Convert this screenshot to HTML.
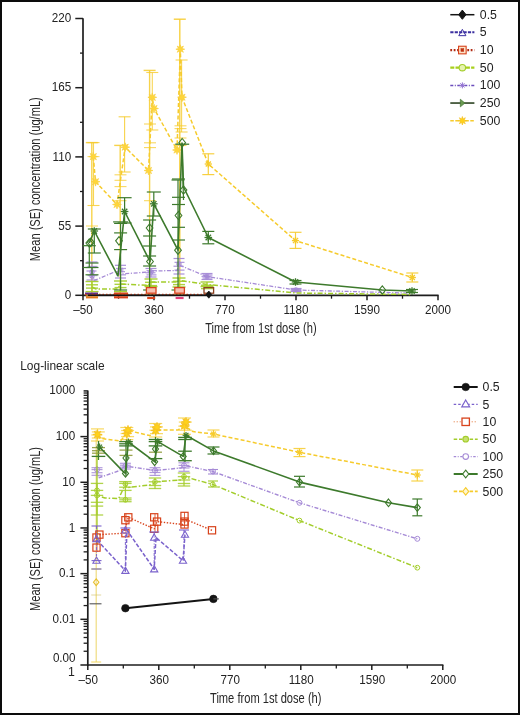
<!DOCTYPE html>
<html><head><meta charset="utf-8"><style>
html,body{margin:0;padding:0;background:#fff;}
#wrap{position:relative;width:520px;height:715px;overflow:hidden;background:#fff;}
#frame{position:absolute;left:0;top:0;width:520px;height:715px;box-sizing:border-box;border:2px solid #0c0c0c;}
svg{position:absolute;left:0;top:0;font-family:"Liberation Sans",sans-serif;filter:blur(0.3px);}
</style></head><body><div id="wrap"><div id="frame"></div>
<svg width="520" height="715" viewBox="0 0 520 715">
<line x1="83" y1="18.2" x2="83" y2="296.1" stroke="#1e1e1e" stroke-width="1.7"/>
<line x1="82.2" y1="295.3" x2="438.6" y2="295.3" stroke="#1e1e1e" stroke-width="1.7"/>
<line x1="75.3" y1="295.3" x2="83" y2="295.3" stroke="#1e1e1e" stroke-width="1.5"/>
<text x="0" y="0" font-size="12.3" text-anchor="end" fill="#222" transform="translate(71.2,298.9) scale(0.95,1)">0</text>
<line x1="75.3" y1="226.1" x2="83" y2="226.1" stroke="#1e1e1e" stroke-width="1.5"/>
<text x="0" y="0" font-size="12.3" text-anchor="end" fill="#222" transform="translate(71.2,229.7) scale(0.95,1)">55</text>
<line x1="75.3" y1="156.9" x2="83" y2="156.9" stroke="#1e1e1e" stroke-width="1.5"/>
<text x="0" y="0" font-size="12.3" text-anchor="end" fill="#222" transform="translate(71.2,160.5) scale(0.95,1)">110</text>
<line x1="75.3" y1="87.7" x2="83" y2="87.7" stroke="#1e1e1e" stroke-width="1.5"/>
<text x="0" y="0" font-size="12.3" text-anchor="end" fill="#222" transform="translate(71.2,91.3) scale(0.95,1)">165</text>
<line x1="75.3" y1="18.5" x2="83" y2="18.5" stroke="#1e1e1e" stroke-width="1.5"/>
<text x="0" y="0" font-size="12.3" text-anchor="end" fill="#222" transform="translate(71.2,22.1) scale(0.95,1)">220</text>
<line x1="80" y1="260.7" x2="83" y2="260.7" stroke="#1e1e1e" stroke-width="1.3"/>
<line x1="80" y1="191.5" x2="83" y2="191.5" stroke="#1e1e1e" stroke-width="1.3"/>
<line x1="80" y1="122.3" x2="83" y2="122.3" stroke="#1e1e1e" stroke-width="1.3"/>
<line x1="80" y1="53.1" x2="83" y2="53.1" stroke="#1e1e1e" stroke-width="1.3"/>
<line x1="83" y1="295.3" x2="83" y2="300.3" stroke="#1e1e1e" stroke-width="1.5"/>
<text x="0" y="0" font-size="12.3" text-anchor="middle" fill="#222" transform="translate(83,314.3) scale(0.95,1)">&#8211;50</text>
<line x1="154" y1="295.3" x2="154" y2="300.3" stroke="#1e1e1e" stroke-width="1.5"/>
<text x="0" y="0" font-size="12.3" text-anchor="middle" fill="#222" transform="translate(154,314.3) scale(0.95,1)">360</text>
<line x1="225" y1="295.3" x2="225" y2="300.3" stroke="#1e1e1e" stroke-width="1.5"/>
<text x="0" y="0" font-size="12.3" text-anchor="middle" fill="#222" transform="translate(225,314.3) scale(0.95,1)">770</text>
<line x1="296" y1="295.3" x2="296" y2="300.3" stroke="#1e1e1e" stroke-width="1.5"/>
<text x="0" y="0" font-size="12.3" text-anchor="middle" fill="#222" transform="translate(296,314.3) scale(0.95,1)">1180</text>
<line x1="367" y1="295.3" x2="367" y2="300.3" stroke="#1e1e1e" stroke-width="1.5"/>
<text x="0" y="0" font-size="12.3" text-anchor="middle" fill="#222" transform="translate(367,314.3) scale(0.95,1)">1590</text>
<line x1="438" y1="295.3" x2="438" y2="300.3" stroke="#1e1e1e" stroke-width="1.5"/>
<text x="0" y="0" font-size="12.3" text-anchor="middle" fill="#222" transform="translate(438,314.3) scale(0.95,1)">2000</text>
<line x1="118.5" y1="295.3" x2="118.5" y2="298.7" stroke="#1e1e1e" stroke-width="1.3"/>
<line x1="189.5" y1="295.3" x2="189.5" y2="298.7" stroke="#1e1e1e" stroke-width="1.3"/>
<line x1="260.5" y1="295.3" x2="260.5" y2="298.7" stroke="#1e1e1e" stroke-width="1.3"/>
<line x1="331.5" y1="295.3" x2="331.5" y2="298.7" stroke="#1e1e1e" stroke-width="1.3"/>
<line x1="402.5" y1="295.3" x2="402.5" y2="298.7" stroke="#1e1e1e" stroke-width="1.3"/>
<text x="0" y="0" font-size="13.8" fill="#262626" textLength="111.5" lengthAdjust="spacingAndGlyphs" transform="translate(205.2,333.3)">Time from 1st dose (h)</text>
<text x="0" y="0" font-size="13.8" fill="#262626" textLength="164" lengthAdjust="spacingAndGlyphs" transform="translate(40.2,261.2) rotate(-90)">Mean (SE) concentration (ug/mL)</text>
<line x1="91.8" y1="142.6" x2="91.8" y2="295" stroke="#f6cb2c" stroke-width="1.4" stroke-opacity="0.85"/>
<line x1="85.8" y1="142.6" x2="97.8" y2="142.6" stroke="#f6cb2c" stroke-width="1.4" stroke-opacity="0.85"/>
<line x1="85.8" y1="295" x2="97.8" y2="295" stroke="#f6cb2c" stroke-width="1.4" stroke-opacity="0.85"/>
<line x1="93.5" y1="142.6" x2="93.5" y2="205.5" stroke="#f6cb2c" stroke-width="1.1" stroke-opacity="0.8"/>
<line x1="87.5" y1="142.6" x2="99.5" y2="142.6" stroke="#f6cb2c" stroke-width="1.1" stroke-opacity="0.8"/>
<line x1="87.5" y1="205.5" x2="99.5" y2="205.5" stroke="#f6cb2c" stroke-width="1.1" stroke-opacity="0.8"/>
<line x1="87.5" y1="156.6" x2="99.5" y2="156.6" stroke="#f6cb2c" stroke-width="1.1" stroke-opacity="0.7"/>
<line x1="86" y1="226" x2="98" y2="226" stroke="#f6cb2c" stroke-width="1.1" stroke-opacity="0.7"/>
<line x1="120.2" y1="145.4" x2="120.2" y2="295" stroke="#f6cb2c" stroke-width="1.4" stroke-opacity="0.85"/>
<line x1="114.2" y1="145.4" x2="126.2" y2="145.4" stroke="#f6cb2c" stroke-width="1.4" stroke-opacity="0.85"/>
<line x1="114.2" y1="295" x2="126.2" y2="295" stroke="#f6cb2c" stroke-width="1.4" stroke-opacity="0.85"/>
<line x1="124.6" y1="116.8" x2="124.6" y2="172" stroke="#f6cb2c" stroke-width="1.1" stroke-opacity="0.85"/>
<line x1="118.6" y1="116.8" x2="130.6" y2="116.8" stroke="#f6cb2c" stroke-width="1.1" stroke-opacity="0.85"/>
<line x1="118.6" y1="172" x2="130.6" y2="172" stroke="#f6cb2c" stroke-width="1.1" stroke-opacity="0.85"/>
<line x1="114.5" y1="174.8" x2="126.5" y2="174.8" stroke="#f6cb2c" stroke-width="1.1" stroke-opacity="0.75"/>
<line x1="114.5" y1="180.3" x2="126.5" y2="180.3" stroke="#f6cb2c" stroke-width="1.1" stroke-opacity="0.75"/>
<line x1="114.5" y1="186.6" x2="126.5" y2="186.6" stroke="#f6cb2c" stroke-width="1.1" stroke-opacity="0.75"/>
<line x1="114.5" y1="200.7" x2="126.5" y2="200.7" stroke="#f6cb2c" stroke-width="1.1" stroke-opacity="0.75"/>
<line x1="149.6" y1="70.4" x2="149.6" y2="295" stroke="#f6cb2c" stroke-width="1.4" stroke-opacity="0.85"/>
<line x1="143.6" y1="70.4" x2="155.6" y2="70.4" stroke="#f6cb2c" stroke-width="1.4" stroke-opacity="0.85"/>
<line x1="143.6" y1="295" x2="155.6" y2="295" stroke="#f6cb2c" stroke-width="1.4" stroke-opacity="0.85"/>
<line x1="152.3" y1="72.5" x2="152.3" y2="130" stroke="#f6cb2c" stroke-width="1.1" stroke-opacity="0.8"/>
<line x1="146.3" y1="72.5" x2="158.3" y2="72.5" stroke="#f6cb2c" stroke-width="1.1" stroke-opacity="0.8"/>
<line x1="146.3" y1="130" x2="158.3" y2="130" stroke="#f6cb2c" stroke-width="1.1" stroke-opacity="0.8"/>
<line x1="144" y1="142.8" x2="156" y2="142.8" stroke="#f6cb2c" stroke-width="1.1" stroke-opacity="0.75"/>
<line x1="144" y1="147.6" x2="156" y2="147.6" stroke="#f6cb2c" stroke-width="1.1" stroke-opacity="0.75"/>
<line x1="144" y1="200.7" x2="156" y2="200.7" stroke="#f6cb2c" stroke-width="1.1" stroke-opacity="0.75"/>
<line x1="144" y1="124" x2="156" y2="124" stroke="#f6cb2c" stroke-width="1.1" stroke-opacity="0.75"/>
<line x1="179.8" y1="19.2" x2="179.8" y2="295" stroke="#f6cb2c" stroke-width="1.4" stroke-opacity="0.9"/>
<line x1="173.8" y1="19.2" x2="185.8" y2="19.2" stroke="#f6cb2c" stroke-width="1.4" stroke-opacity="0.9"/>
<line x1="173.8" y1="295" x2="185.8" y2="295" stroke="#f6cb2c" stroke-width="1.4" stroke-opacity="0.9"/>
<line x1="181.6" y1="60" x2="181.6" y2="132" stroke="#f6cb2c" stroke-width="1.1" stroke-opacity="0.8"/>
<line x1="175.6" y1="60" x2="187.6" y2="60" stroke="#f6cb2c" stroke-width="1.1" stroke-opacity="0.8"/>
<line x1="175.6" y1="132" x2="187.6" y2="132" stroke="#f6cb2c" stroke-width="1.1" stroke-opacity="0.8"/>
<line x1="174.5" y1="125.8" x2="186.5" y2="125.8" stroke="#f6cb2c" stroke-width="1.1" stroke-opacity="0.75"/>
<line x1="174.5" y1="128.6" x2="186.5" y2="128.6" stroke="#f6cb2c" stroke-width="1.1" stroke-opacity="0.75"/>
<line x1="174.5" y1="138" x2="186.5" y2="138" stroke="#f6cb2c" stroke-width="1.1" stroke-opacity="0.75"/>
<line x1="174.5" y1="145.5" x2="186.5" y2="145.5" stroke="#f6cb2c" stroke-width="1.1" stroke-opacity="0.75"/>
<line x1="208.3" y1="153.8" x2="208.3" y2="174.6" stroke="#f6cb2c" stroke-width="1.2" stroke-opacity="0.9"/>
<line x1="202.3" y1="153.8" x2="214.3" y2="153.8" stroke="#f6cb2c" stroke-width="1.2" stroke-opacity="0.9"/>
<line x1="202.3" y1="174.6" x2="214.3" y2="174.6" stroke="#f6cb2c" stroke-width="1.2" stroke-opacity="0.9"/>
<line x1="295.5" y1="232.3" x2="295.5" y2="248.4" stroke="#f6cb2c" stroke-width="1.2" stroke-opacity="0.9"/>
<line x1="289.5" y1="232.3" x2="301.5" y2="232.3" stroke="#f6cb2c" stroke-width="1.2" stroke-opacity="0.9"/>
<line x1="289.5" y1="248.4" x2="301.5" y2="248.4" stroke="#f6cb2c" stroke-width="1.2" stroke-opacity="0.9"/>
<line x1="412.3" y1="273" x2="412.3" y2="282" stroke="#f6cb2c" stroke-width="1.2" stroke-opacity="0.9"/>
<line x1="406.3" y1="273" x2="418.3" y2="273" stroke="#f6cb2c" stroke-width="1.2" stroke-opacity="0.9"/>
<line x1="406.3" y1="282" x2="418.3" y2="282" stroke="#f6cb2c" stroke-width="1.2" stroke-opacity="0.9"/>
<polyline points="93.3,156.6 95.5,181.7 117,204.5 125.2,147.2 148.5,170.5 152.3,97.3 154,108.5 177,150 180.3,49.2 182,97.2 208.3,164 295.5,240.6 412.3,277.5" fill="none" stroke="#f6cb2c" stroke-width="1.5" stroke-dasharray="4 2.2" stroke-linejoin="round"/>
<polygon points="93.3,152.2 94.06,154.77 96.41,153.49 95.13,155.84 97.7,156.6 95.13,157.36 96.41,159.71 94.06,158.43 93.3,161 92.54,158.43 90.19,159.71 91.47,157.36 88.9,156.6 91.47,155.84 90.19,153.49 92.54,154.77" fill="#ffd63a" stroke="#f8d040" stroke-width="0.7"/>
<polygon points="95.5,177.3 96.26,179.87 98.61,178.59 97.33,180.94 99.9,181.7 97.33,182.46 98.61,184.81 96.26,183.53 95.5,186.1 94.74,183.53 92.39,184.81 93.67,182.46 91.1,181.7 93.67,180.94 92.39,178.59 94.74,179.87" fill="#ffd63a" stroke="#f8d040" stroke-width="0.7"/>
<polygon points="117,200.1 117.76,202.67 120.11,201.39 118.83,203.74 121.4,204.5 118.83,205.26 120.11,207.61 117.76,206.33 117,208.9 116.24,206.33 113.89,207.61 115.17,205.26 112.6,204.5 115.17,203.74 113.89,201.39 116.24,202.67" fill="#ffd63a" stroke="#f8d040" stroke-width="0.7"/>
<polygon points="125.2,142.8 125.96,145.37 128.31,144.09 127.03,146.44 129.6,147.2 127.03,147.96 128.31,150.31 125.96,149.03 125.2,151.6 124.44,149.03 122.09,150.31 123.37,147.96 120.8,147.2 123.37,146.44 122.09,144.09 124.44,145.37" fill="#ffd63a" stroke="#f8d040" stroke-width="0.7"/>
<polygon points="148.5,166.1 149.26,168.67 151.61,167.39 150.33,169.74 152.9,170.5 150.33,171.26 151.61,173.61 149.26,172.33 148.5,174.9 147.74,172.33 145.39,173.61 146.67,171.26 144.1,170.5 146.67,169.74 145.39,167.39 147.74,168.67" fill="#ffd63a" stroke="#f8d040" stroke-width="0.7"/>
<polygon points="152.3,92.9 153.06,95.47 155.41,94.19 154.13,96.54 156.7,97.3 154.13,98.06 155.41,100.41 153.06,99.13 152.3,101.7 151.54,99.13 149.19,100.41 150.47,98.06 147.9,97.3 150.47,96.54 149.19,94.19 151.54,95.47" fill="#ffd63a" stroke="#f8d040" stroke-width="0.7"/>
<polygon points="154,104.1 154.76,106.67 157.11,105.39 155.83,107.74 158.4,108.5 155.83,109.26 157.11,111.61 154.76,110.33 154,112.9 153.24,110.33 150.89,111.61 152.17,109.26 149.6,108.5 152.17,107.74 150.89,105.39 153.24,106.67" fill="#ffd63a" stroke="#f8d040" stroke-width="0.7"/>
<polygon points="177,145.6 177.76,148.17 180.11,146.89 178.83,149.24 181.4,150 178.83,150.76 180.11,153.11 177.76,151.83 177,154.4 176.24,151.83 173.89,153.11 175.17,150.76 172.6,150 175.17,149.24 173.89,146.89 176.24,148.17" fill="#ffd63a" stroke="#f8d040" stroke-width="0.7"/>
<polygon points="180.3,44.8 181.06,47.37 183.41,46.09 182.13,48.44 184.7,49.2 182.13,49.96 183.41,52.31 181.06,51.03 180.3,53.6 179.54,51.03 177.19,52.31 178.47,49.96 175.9,49.2 178.47,48.44 177.19,46.09 179.54,47.37" fill="#ffd63a" stroke="#f8d040" stroke-width="0.7"/>
<polygon points="182,92.8 182.76,95.37 185.11,94.09 183.83,96.44 186.4,97.2 183.83,97.96 185.11,100.31 182.76,99.03 182,101.6 181.24,99.03 178.89,100.31 180.17,97.96 177.6,97.2 180.17,96.44 178.89,94.09 181.24,95.37" fill="#ffd63a" stroke="#f8d040" stroke-width="0.7"/>
<line x1="204.7" y1="164" x2="211.9" y2="164" stroke="#f6cb2c" stroke-width="1.3"/>
<line x1="205.75" y1="161.45" x2="210.85" y2="166.55" stroke="#f6cb2c" stroke-width="1.3"/>
<line x1="208.3" y1="160.4" x2="208.3" y2="167.6" stroke="#f6cb2c" stroke-width="1.3"/>
<line x1="210.85" y1="161.45" x2="205.75" y2="166.55" stroke="#f6cb2c" stroke-width="1.3"/>
<line x1="291.9" y1="240.6" x2="299.1" y2="240.6" stroke="#f6cb2c" stroke-width="1.3"/>
<line x1="292.95" y1="238.05" x2="298.05" y2="243.15" stroke="#f6cb2c" stroke-width="1.3"/>
<line x1="295.5" y1="237" x2="295.5" y2="244.2" stroke="#f6cb2c" stroke-width="1.3"/>
<line x1="298.05" y1="238.05" x2="292.95" y2="243.15" stroke="#f6cb2c" stroke-width="1.3"/>
<line x1="408.7" y1="277.5" x2="415.9" y2="277.5" stroke="#f6cb2c" stroke-width="1.3"/>
<line x1="409.75" y1="274.95" x2="414.85" y2="280.05" stroke="#f6cb2c" stroke-width="1.3"/>
<line x1="412.3" y1="273.9" x2="412.3" y2="281.1" stroke="#f6cb2c" stroke-width="1.3"/>
<line x1="414.85" y1="274.95" x2="409.75" y2="280.05" stroke="#f6cb2c" stroke-width="1.3"/>
<line x1="92" y1="262" x2="92" y2="280" stroke="#a58ad6" stroke-width="1.2" stroke-opacity="0.95"/>
<line x1="86.5" y1="262" x2="97.5" y2="262" stroke="#a58ad6" stroke-width="1.2" stroke-opacity="0.95"/>
<line x1="86.5" y1="280" x2="97.5" y2="280" stroke="#a58ad6" stroke-width="1.2" stroke-opacity="0.95"/>
<line x1="87.5" y1="266.5" x2="97.5" y2="266.5" stroke="#a58ad6" stroke-width="1.3" stroke-opacity="0.85"/>
<line x1="86.5" y1="271" x2="96.5" y2="271" stroke="#a58ad6" stroke-width="1.3" stroke-opacity="0.85"/>
<line x1="87.5" y1="275.5" x2="97.5" y2="275.5" stroke="#a58ad6" stroke-width="1.3" stroke-opacity="0.85"/>
<line x1="120.5" y1="265.3" x2="120.5" y2="278" stroke="#a58ad6" stroke-width="1.2" stroke-opacity="0.95"/>
<line x1="115" y1="265.3" x2="126" y2="265.3" stroke="#a58ad6" stroke-width="1.2" stroke-opacity="0.95"/>
<line x1="115" y1="278" x2="126" y2="278" stroke="#a58ad6" stroke-width="1.2" stroke-opacity="0.95"/>
<line x1="116" y1="268.48" x2="126" y2="268.48" stroke="#a58ad6" stroke-width="1.3" stroke-opacity="0.85"/>
<line x1="115" y1="271.65" x2="125" y2="271.65" stroke="#a58ad6" stroke-width="1.3" stroke-opacity="0.85"/>
<line x1="116" y1="274.82" x2="126" y2="274.82" stroke="#a58ad6" stroke-width="1.3" stroke-opacity="0.85"/>
<line x1="151" y1="268.5" x2="151" y2="277" stroke="#a58ad6" stroke-width="1.2" stroke-opacity="0.95"/>
<line x1="145.5" y1="268.5" x2="156.5" y2="268.5" stroke="#a58ad6" stroke-width="1.2" stroke-opacity="0.95"/>
<line x1="145.5" y1="277" x2="156.5" y2="277" stroke="#a58ad6" stroke-width="1.2" stroke-opacity="0.95"/>
<line x1="146.5" y1="270.62" x2="156.5" y2="270.62" stroke="#a58ad6" stroke-width="1.3" stroke-opacity="0.85"/>
<line x1="145.5" y1="272.75" x2="155.5" y2="272.75" stroke="#a58ad6" stroke-width="1.3" stroke-opacity="0.85"/>
<line x1="146.5" y1="274.88" x2="156.5" y2="274.88" stroke="#a58ad6" stroke-width="1.3" stroke-opacity="0.85"/>
<line x1="179" y1="258.5" x2="179" y2="274" stroke="#a58ad6" stroke-width="1.2" stroke-opacity="0.95"/>
<line x1="173.5" y1="258.5" x2="184.5" y2="258.5" stroke="#a58ad6" stroke-width="1.2" stroke-opacity="0.95"/>
<line x1="173.5" y1="274" x2="184.5" y2="274" stroke="#a58ad6" stroke-width="1.2" stroke-opacity="0.95"/>
<line x1="174.5" y1="262.38" x2="184.5" y2="262.38" stroke="#a58ad6" stroke-width="1.3" stroke-opacity="0.85"/>
<line x1="173.5" y1="266.25" x2="183.5" y2="266.25" stroke="#a58ad6" stroke-width="1.3" stroke-opacity="0.85"/>
<line x1="174.5" y1="270.12" x2="184.5" y2="270.12" stroke="#a58ad6" stroke-width="1.3" stroke-opacity="0.85"/>
<line x1="207" y1="273.5" x2="207" y2="279.5" stroke="#a58ad6" stroke-width="1.2" stroke-opacity="0.95"/>
<line x1="201.5" y1="273.5" x2="212.5" y2="273.5" stroke="#a58ad6" stroke-width="1.2" stroke-opacity="0.95"/>
<line x1="201.5" y1="279.5" x2="212.5" y2="279.5" stroke="#a58ad6" stroke-width="1.2" stroke-opacity="0.95"/>
<line x1="202.5" y1="275" x2="212.5" y2="275" stroke="#a58ad6" stroke-width="1.3" stroke-opacity="0.85"/>
<line x1="201.5" y1="276.5" x2="211.5" y2="276.5" stroke="#a58ad6" stroke-width="1.3" stroke-opacity="0.85"/>
<line x1="202.5" y1="278" x2="212.5" y2="278" stroke="#a58ad6" stroke-width="1.3" stroke-opacity="0.85"/>
<line x1="296" y1="288.5" x2="296" y2="291.5" stroke="#a58ad6" stroke-width="1.2" stroke-opacity="0.95"/>
<line x1="290.5" y1="288.5" x2="301.5" y2="288.5" stroke="#a58ad6" stroke-width="1.2" stroke-opacity="0.95"/>
<line x1="290.5" y1="291.5" x2="301.5" y2="291.5" stroke="#a58ad6" stroke-width="1.2" stroke-opacity="0.95"/>
<line x1="291.5" y1="289.25" x2="301.5" y2="289.25" stroke="#a58ad6" stroke-width="1.3" stroke-opacity="0.85"/>
<line x1="290.5" y1="290" x2="300.5" y2="290" stroke="#a58ad6" stroke-width="1.3" stroke-opacity="0.85"/>
<line x1="291.5" y1="290.75" x2="301.5" y2="290.75" stroke="#a58ad6" stroke-width="1.3" stroke-opacity="0.85"/>
<polyline points="92,272 94.3,280.4 115.6,271.5 121,274 149,272 151,271 177,270.5 179,265 207,276.6 296,290 412,293.2" fill="none" stroke="#a58ad6" stroke-width="1.3" stroke-dasharray="4 1.6 1.2 1.6" stroke-linejoin="round"/>
<line x1="89" y1="272" x2="95" y2="272" stroke="#a58ad6" stroke-width="1.1"/>
<line x1="89.88" y1="269.88" x2="94.12" y2="274.12" stroke="#a58ad6" stroke-width="1.1"/>
<line x1="92" y1="269" x2="92" y2="275" stroke="#a58ad6" stroke-width="1.1"/>
<line x1="94.12" y1="269.88" x2="89.88" y2="274.12" stroke="#a58ad6" stroke-width="1.1"/>
<line x1="89" y1="276" x2="95" y2="276" stroke="#a58ad6" stroke-width="1.1"/>
<line x1="89.88" y1="273.88" x2="94.12" y2="278.12" stroke="#a58ad6" stroke-width="1.1"/>
<line x1="92" y1="273" x2="92" y2="279" stroke="#a58ad6" stroke-width="1.1"/>
<line x1="94.12" y1="273.88" x2="89.88" y2="278.12" stroke="#a58ad6" stroke-width="1.1"/>
<line x1="117.5" y1="270" x2="123.5" y2="270" stroke="#a58ad6" stroke-width="1.1"/>
<line x1="118.38" y1="267.88" x2="122.62" y2="272.12" stroke="#a58ad6" stroke-width="1.1"/>
<line x1="120.5" y1="267" x2="120.5" y2="273" stroke="#a58ad6" stroke-width="1.1"/>
<line x1="122.62" y1="267.88" x2="118.38" y2="272.12" stroke="#a58ad6" stroke-width="1.1"/>
<line x1="148" y1="272" x2="154" y2="272" stroke="#a58ad6" stroke-width="1.1"/>
<line x1="148.88" y1="269.88" x2="153.12" y2="274.12" stroke="#a58ad6" stroke-width="1.1"/>
<line x1="151" y1="269" x2="151" y2="275" stroke="#a58ad6" stroke-width="1.1"/>
<line x1="153.12" y1="269.88" x2="148.88" y2="274.12" stroke="#a58ad6" stroke-width="1.1"/>
<line x1="176" y1="264" x2="182" y2="264" stroke="#a58ad6" stroke-width="1.1"/>
<line x1="176.88" y1="261.88" x2="181.12" y2="266.12" stroke="#a58ad6" stroke-width="1.1"/>
<line x1="179" y1="261" x2="179" y2="267" stroke="#a58ad6" stroke-width="1.1"/>
<line x1="181.12" y1="261.88" x2="176.88" y2="266.12" stroke="#a58ad6" stroke-width="1.1"/>
<line x1="204" y1="276.6" x2="210" y2="276.6" stroke="#a58ad6" stroke-width="1.1"/>
<line x1="204.88" y1="274.48" x2="209.12" y2="278.72" stroke="#a58ad6" stroke-width="1.1"/>
<line x1="207" y1="273.6" x2="207" y2="279.6" stroke="#a58ad6" stroke-width="1.1"/>
<line x1="209.12" y1="274.48" x2="204.88" y2="278.72" stroke="#a58ad6" stroke-width="1.1"/>
<line x1="293" y1="290" x2="299" y2="290" stroke="#a58ad6" stroke-width="1.1"/>
<line x1="293.88" y1="287.88" x2="298.12" y2="292.12" stroke="#a58ad6" stroke-width="1.1"/>
<line x1="296" y1="287" x2="296" y2="293" stroke="#a58ad6" stroke-width="1.1"/>
<line x1="298.12" y1="287.88" x2="293.88" y2="292.12" stroke="#a58ad6" stroke-width="1.1"/>
<line x1="92" y1="281.5" x2="92" y2="291.6" stroke="#a3cd2b" stroke-width="1.4" stroke-opacity="0.95"/>
<line x1="85.5" y1="281.5" x2="98.5" y2="281.5" stroke="#a3cd2b" stroke-width="1.4" stroke-opacity="0.95"/>
<line x1="85.5" y1="291.6" x2="98.5" y2="291.6" stroke="#a3cd2b" stroke-width="1.4" stroke-opacity="0.95"/>
<line x1="86" y1="284.8" x2="98" y2="284.8" stroke="#a3cd2b" stroke-width="1.4" stroke-opacity="0.9"/>
<line x1="86" y1="288.1" x2="98" y2="288.1" stroke="#a3cd2b" stroke-width="1.4" stroke-opacity="0.9"/>
<line x1="120.5" y1="281" x2="120.5" y2="291.6" stroke="#a3cd2b" stroke-width="1.4" stroke-opacity="0.95"/>
<line x1="114" y1="281" x2="127" y2="281" stroke="#a3cd2b" stroke-width="1.4" stroke-opacity="0.95"/>
<line x1="114" y1="291.6" x2="127" y2="291.6" stroke="#a3cd2b" stroke-width="1.4" stroke-opacity="0.95"/>
<line x1="114.5" y1="284.3" x2="126.5" y2="284.3" stroke="#a3cd2b" stroke-width="1.4" stroke-opacity="0.9"/>
<line x1="114.5" y1="287.6" x2="126.5" y2="287.6" stroke="#a3cd2b" stroke-width="1.4" stroke-opacity="0.9"/>
<line x1="151" y1="279" x2="151" y2="286.5" stroke="#a3cd2b" stroke-width="1.4" stroke-opacity="0.95"/>
<line x1="144.5" y1="279" x2="157.5" y2="279" stroke="#a3cd2b" stroke-width="1.4" stroke-opacity="0.95"/>
<line x1="144.5" y1="286.5" x2="157.5" y2="286.5" stroke="#a3cd2b" stroke-width="1.4" stroke-opacity="0.95"/>
<line x1="145" y1="282.3" x2="157" y2="282.3" stroke="#a3cd2b" stroke-width="1.4" stroke-opacity="0.9"/>
<line x1="145" y1="285.6" x2="157" y2="285.6" stroke="#a3cd2b" stroke-width="1.4" stroke-opacity="0.9"/>
<line x1="179" y1="278" x2="179" y2="287" stroke="#a3cd2b" stroke-width="1.4" stroke-opacity="0.95"/>
<line x1="172.5" y1="278" x2="185.5" y2="278" stroke="#a3cd2b" stroke-width="1.4" stroke-opacity="0.95"/>
<line x1="172.5" y1="287" x2="185.5" y2="287" stroke="#a3cd2b" stroke-width="1.4" stroke-opacity="0.95"/>
<line x1="173" y1="281.3" x2="185" y2="281.3" stroke="#a3cd2b" stroke-width="1.4" stroke-opacity="0.9"/>
<line x1="173" y1="284.6" x2="185" y2="284.6" stroke="#a3cd2b" stroke-width="1.4" stroke-opacity="0.9"/>
<line x1="207" y1="282" x2="207" y2="286.5" stroke="#a3cd2b" stroke-width="1.4" stroke-opacity="0.95"/>
<line x1="200.5" y1="282" x2="213.5" y2="282" stroke="#a3cd2b" stroke-width="1.4" stroke-opacity="0.95"/>
<line x1="200.5" y1="286.5" x2="213.5" y2="286.5" stroke="#a3cd2b" stroke-width="1.4" stroke-opacity="0.95"/>
<line x1="201" y1="285.3" x2="213" y2="285.3" stroke="#a3cd2b" stroke-width="1.4" stroke-opacity="0.9"/>
<line x1="201" y1="288.6" x2="213" y2="288.6" stroke="#a3cd2b" stroke-width="1.4" stroke-opacity="0.9"/>
<polyline points="92,287 96,289 117,289 121,284 148,285.4 151,282 176,282 180,280.5 207,284.5 296,293 412,294.5" fill="none" stroke="#a3cd2b" stroke-width="1.5" stroke-dasharray="5 2 1.5 2" stroke-linejoin="round"/>
<line x1="94.3" y1="229" x2="94.3" y2="253" stroke="#3d7a2c" stroke-width="1.2"/>
<line x1="87.8" y1="229" x2="100.8" y2="229" stroke="#3d7a2c" stroke-width="1.2"/>
<line x1="87.8" y1="253" x2="100.8" y2="253" stroke="#3d7a2c" stroke-width="1.2"/>
<line x1="89.3" y1="245.7" x2="89.3" y2="267.5" stroke="#3d7a2c" stroke-width="1.2"/>
<line x1="82.8" y1="245.7" x2="95.8" y2="245.7" stroke="#3d7a2c" stroke-width="1.2"/>
<line x1="82.8" y1="267.5" x2="95.8" y2="267.5" stroke="#3d7a2c" stroke-width="1.2"/>
<line x1="92" y1="267.5" x2="92" y2="274.8" stroke="#3d7a2c" stroke-width="1.2"/>
<line x1="85.5" y1="267.5" x2="98.5" y2="267.5" stroke="#3d7a2c" stroke-width="1.2"/>
<line x1="85.5" y1="274.8" x2="98.5" y2="274.8" stroke="#3d7a2c" stroke-width="1.2"/>
<line x1="85.5" y1="263" x2="98.5" y2="263" stroke="#3d7a2c" stroke-width="1.2"/>
<line x1="124.6" y1="197.7" x2="124.6" y2="223" stroke="#3d7a2c" stroke-width="1.2"/>
<line x1="117.6" y1="197.7" x2="131.6" y2="197.7" stroke="#3d7a2c" stroke-width="1.2"/>
<line x1="117.6" y1="223" x2="131.6" y2="223" stroke="#3d7a2c" stroke-width="1.2"/>
<line x1="120.6" y1="223.4" x2="120.6" y2="290" stroke="#3d7a2c" stroke-width="1.2"/>
<line x1="114.1" y1="223.4" x2="127.1" y2="223.4" stroke="#3d7a2c" stroke-width="1.2"/>
<line x1="114.1" y1="290" x2="127.1" y2="290" stroke="#3d7a2c" stroke-width="1.2"/>
<line x1="114.1" y1="232.9" x2="127.1" y2="232.9" stroke="#3d7a2c" stroke-width="1.2"/>
<line x1="114.1" y1="249.6" x2="127.1" y2="249.6" stroke="#3d7a2c" stroke-width="1.2"/>
<line x1="113.1" y1="221.9" x2="128.1" y2="221.9" stroke="#3d7a2c" stroke-width="1.2"/>
<line x1="153.8" y1="192" x2="153.8" y2="216" stroke="#3d7a2c" stroke-width="1.2"/>
<line x1="146.8" y1="192" x2="160.8" y2="192" stroke="#3d7a2c" stroke-width="1.2"/>
<line x1="146.8" y1="216" x2="160.8" y2="216" stroke="#3d7a2c" stroke-width="1.2"/>
<line x1="149.6" y1="220" x2="149.6" y2="290" stroke="#3d7a2c" stroke-width="1.2"/>
<line x1="143.1" y1="220" x2="156.1" y2="220" stroke="#3d7a2c" stroke-width="1.2"/>
<line x1="143.1" y1="290" x2="156.1" y2="290" stroke="#3d7a2c" stroke-width="1.2"/>
<line x1="143.1" y1="256" x2="156.1" y2="256" stroke="#3d7a2c" stroke-width="1.2"/>
<line x1="143.1" y1="266" x2="156.1" y2="266" stroke="#3d7a2c" stroke-width="1.2"/>
<line x1="143.1" y1="236" x2="156.1" y2="236" stroke="#3d7a2c" stroke-width="1.2"/>
<line x1="143.1" y1="246" x2="156.1" y2="246" stroke="#3d7a2c" stroke-width="1.2"/>
<line x1="182" y1="143.5" x2="183.5" y2="200" stroke="#3d7a2c" stroke-width="1.2"/>
<line x1="178" y1="180" x2="178" y2="290" stroke="#3d7a2c" stroke-width="1.2"/>
<line x1="171.5" y1="180" x2="184.5" y2="180" stroke="#3d7a2c" stroke-width="1.2"/>
<line x1="171.5" y1="290" x2="184.5" y2="290" stroke="#3d7a2c" stroke-width="1.2"/>
<line x1="172" y1="179" x2="185" y2="179" stroke="#3d7a2c" stroke-width="1.2"/>
<line x1="172" y1="197.3" x2="185" y2="197.3" stroke="#3d7a2c" stroke-width="1.2"/>
<line x1="172" y1="204.5" x2="185" y2="204.5" stroke="#3d7a2c" stroke-width="1.2"/>
<line x1="172" y1="227.3" x2="185" y2="227.3" stroke="#3d7a2c" stroke-width="1.2"/>
<line x1="172" y1="240" x2="185" y2="240" stroke="#3d7a2c" stroke-width="1.2"/>
<line x1="175.2" y1="144.2" x2="189.2" y2="144.2" stroke="#3d7a2c" stroke-width="1.3"/>
<line x1="208.3" y1="231.4" x2="208.3" y2="243.8" stroke="#3d7a2c" stroke-width="1.2"/>
<line x1="202.3" y1="231.4" x2="214.3" y2="231.4" stroke="#3d7a2c" stroke-width="1.2"/>
<line x1="202.3" y1="243.8" x2="214.3" y2="243.8" stroke="#3d7a2c" stroke-width="1.2"/>
<line x1="295.5" y1="280.5" x2="295.5" y2="284" stroke="#3d7a2c" stroke-width="1.2"/>
<line x1="289.5" y1="280.5" x2="301.5" y2="280.5" stroke="#3d7a2c" stroke-width="1.2"/>
<line x1="289.5" y1="284" x2="301.5" y2="284" stroke="#3d7a2c" stroke-width="1.2"/>
<line x1="412" y1="289.5" x2="412" y2="292.5" stroke="#3d7a2c" stroke-width="1.2"/>
<line x1="406" y1="289.5" x2="418" y2="289.5" stroke="#3d7a2c" stroke-width="1.2"/>
<line x1="406" y1="292.5" x2="418" y2="292.5" stroke="#3d7a2c" stroke-width="1.2"/>
<polyline points="89.3,243 94.3,231 118,276 124.6,211.5 150,261.5 153.8,203.8 178,250.2 182,143 183.5,187 208.3,237.5 295.5,282 382.3,290 412,291" fill="none" stroke="#3d7a2c" stroke-width="1.6" stroke-linejoin="round"/>
<path d="M89.3 238.8L92.66 243L89.3 247.2L85.94 243Z" fill="none" stroke="#3d7a2c" stroke-width="1.1"/>
<path d="M119 236.6L122.36 240.8L119 245L115.64 240.8Z" fill="none" stroke="#3d7a2c" stroke-width="1.1"/>
<path d="M150 257.3L153.36 261.5L150 265.7L146.64 261.5Z" fill="none" stroke="#3d7a2c" stroke-width="1.1"/>
<path d="M149.6 223.8L152.96 228L149.6 232.2L146.24 228Z" fill="none" stroke="#3d7a2c" stroke-width="1.1"/>
<path d="M178 246L181.36 250.2L178 254.4L174.64 250.2Z" fill="none" stroke="#3d7a2c" stroke-width="1.1"/>
<path d="M183.5 185.8L186.86 190L183.5 194.2L180.14 190Z" fill="none" stroke="#3d7a2c" stroke-width="1.1"/>
<path d="M178.5 211.3L181.86 215.5L178.5 219.7L175.14 215.5Z" fill="none" stroke="#3d7a2c" stroke-width="1.1"/>
<path d="M382.3 285.8L385.66 290L382.3 294.2L378.94 290Z" fill="none" stroke="#3d7a2c" stroke-width="1.1"/>
<path d="M90.8 238.1L94.16 242.3L90.8 246.5L87.44 242.3Z" fill="none" stroke="#3d7a2c" stroke-width="1.1"/>
<path d="M182.2 138.5L185.56 142.7L182.2 146.9L178.84 142.7Z" fill="none" stroke="#3d7a2c" stroke-width="1.1"/>
<line x1="90.5" y1="231" x2="98.1" y2="231" stroke="#3d7a2c" stroke-width="1.3"/>
<line x1="91.61" y1="228.31" x2="96.99" y2="233.69" stroke="#3d7a2c" stroke-width="1.3"/>
<line x1="94.3" y1="227.2" x2="94.3" y2="234.8" stroke="#3d7a2c" stroke-width="1.3"/>
<line x1="96.99" y1="228.31" x2="91.61" y2="233.69" stroke="#3d7a2c" stroke-width="1.3"/>
<line x1="120.8" y1="211.5" x2="128.4" y2="211.5" stroke="#3d7a2c" stroke-width="1.3"/>
<line x1="121.91" y1="208.81" x2="127.29" y2="214.19" stroke="#3d7a2c" stroke-width="1.3"/>
<line x1="124.6" y1="207.7" x2="124.6" y2="215.3" stroke="#3d7a2c" stroke-width="1.3"/>
<line x1="127.29" y1="208.81" x2="121.91" y2="214.19" stroke="#3d7a2c" stroke-width="1.3"/>
<line x1="150" y1="203.8" x2="157.6" y2="203.8" stroke="#3d7a2c" stroke-width="1.3"/>
<line x1="151.11" y1="201.11" x2="156.49" y2="206.49" stroke="#3d7a2c" stroke-width="1.3"/>
<line x1="153.8" y1="200" x2="153.8" y2="207.6" stroke="#3d7a2c" stroke-width="1.3"/>
<line x1="156.49" y1="201.11" x2="151.11" y2="206.49" stroke="#3d7a2c" stroke-width="1.3"/>
<line x1="204.5" y1="237.5" x2="212.1" y2="237.5" stroke="#3d7a2c" stroke-width="1.3"/>
<line x1="205.61" y1="234.81" x2="210.99" y2="240.19" stroke="#3d7a2c" stroke-width="1.3"/>
<line x1="208.3" y1="233.7" x2="208.3" y2="241.3" stroke="#3d7a2c" stroke-width="1.3"/>
<line x1="210.99" y1="234.81" x2="205.61" y2="240.19" stroke="#3d7a2c" stroke-width="1.3"/>
<line x1="291.7" y1="282" x2="299.3" y2="282" stroke="#3d7a2c" stroke-width="1.3"/>
<line x1="292.81" y1="279.31" x2="298.19" y2="284.69" stroke="#3d7a2c" stroke-width="1.3"/>
<line x1="295.5" y1="278.2" x2="295.5" y2="285.8" stroke="#3d7a2c" stroke-width="1.3"/>
<line x1="298.19" y1="279.31" x2="292.81" y2="284.69" stroke="#3d7a2c" stroke-width="1.3"/>
<line x1="408.2" y1="291" x2="415.8" y2="291" stroke="#3d7a2c" stroke-width="1.3"/>
<line x1="409.31" y1="288.31" x2="414.69" y2="293.69" stroke="#3d7a2c" stroke-width="1.3"/>
<line x1="412" y1="287.2" x2="412" y2="294.8" stroke="#3d7a2c" stroke-width="1.3"/>
<line x1="414.69" y1="288.31" x2="409.31" y2="293.69" stroke="#3d7a2c" stroke-width="1.3"/>
<line x1="85" y1="293.6" x2="98" y2="293.6" stroke="#5a2a8a" stroke-width="2.2"/>
<line x1="86" y1="297.3" x2="98" y2="297.3" stroke="#e07a20" stroke-width="2.2"/>
<line x1="114" y1="293.6" x2="128" y2="293.6" stroke="#d8431c" stroke-width="2.2"/>
<line x1="114" y1="297.3" x2="128" y2="297.3" stroke="#d8431c" stroke-width="2.2"/>
<rect x="146.4" y="287.6" width="9.6" height="5.6" fill="#f6c0b0" stroke="#d8431c" stroke-width="1.3"/>
<line x1="147.2" y1="298" x2="155.2" y2="298" stroke="#d8431c" stroke-width="2.2"/>
<rect x="174.8" y="287.6" width="9.6" height="5.6" fill="#f6c0b0" stroke="#d8431c" stroke-width="1.3"/>
<line x1="175.6" y1="298" x2="183.6" y2="298" stroke="#e0407a" stroke-width="2.2"/>
<rect x="204" y="287.6" width="9.6" height="5.6" fill="none" stroke="#8a4020" stroke-width="1.3"/>
<polyline points="85,294.5 208,294.5" fill="none" stroke="#d8431c" stroke-width="1.3" stroke-dasharray="1.5 2" stroke-linejoin="round"/>
<path d="M208.8 291L211.68 294.6L208.8 298.2L205.92 294.6Z" fill="#141414" stroke="#141414" stroke-width="0.8"/>
<polyline points="88,295.2 208.8,295.2" fill="none" stroke="#141414" stroke-width="1.4" stroke-linejoin="round"/>
<line x1="450.3" y1="14.7" x2="474.4" y2="14.7" stroke="#141414" stroke-width="1.5"/>
<path d="M462.35 10.1L466.03 14.7L462.35 19.3L458.67 14.7Z" fill="#141414" stroke="#141414" stroke-width="1"/>
<text x="479.8" y="18.8" font-size="12.3" text-anchor="start" fill="#222">0.5</text>
<polyline points="450.3,32.37 474.4,32.37" fill="none" stroke="#3b2fa0" stroke-width="2.0" stroke-dasharray="3.2 1.2" stroke-linejoin="round"/>
<path d="M462.35 29.37L465.95 35.67L458.75 35.67Z" fill="none" stroke="#3b2fa0" stroke-width="1"/>
<text x="479.8" y="36.47" font-size="12.3" text-anchor="start" fill="#222">5</text>
<polyline points="450.3,50.04 474.4,50.04" fill="none" stroke="#b02a12" stroke-width="2.2" stroke-dasharray="1.8 1.6" stroke-linejoin="round"/>
<rect x="458.55" y="46.24" width="7.6" height="7.6" fill="#fbe2c8" stroke="#d8431c" stroke-width="1.1"/>
<rect x="460.95" y="48.64" width="2.8" height="2.8" fill="#c03010" stroke="#c03010" stroke-width="0.5"/>
<text x="479.8" y="54.14" font-size="12.3" text-anchor="start" fill="#222">10</text>
<polyline points="450.3,67.71 474.4,67.71" fill="none" stroke="#a8d01c" stroke-width="2.2" stroke-dasharray="4 1.2" stroke-linejoin="round"/>
<circle cx="462.35" cy="67.71" r="3.2" fill="#e6f3b0" stroke="#a3cd2b" stroke-width="1.1"/>
<text x="479.8" y="71.81" font-size="12.3" text-anchor="start" fill="#222">50</text>
<polyline points="450.3,85.38 474.4,85.38" fill="none" stroke="#6a4cbc" stroke-width="1.5" stroke-dasharray="3 1.5 1 1.5" stroke-linejoin="round"/>
<line x1="459.35" y1="85.38" x2="465.35" y2="85.38" stroke="#9070d0" stroke-width="1"/>
<line x1="460.23" y1="83.26" x2="464.47" y2="87.5" stroke="#9070d0" stroke-width="1"/>
<line x1="462.35" y1="82.38" x2="462.35" y2="88.38" stroke="#9070d0" stroke-width="1"/>
<line x1="464.47" y1="83.26" x2="460.23" y2="87.5" stroke="#9070d0" stroke-width="1"/>
<text x="479.8" y="89.48" font-size="12.3" text-anchor="start" fill="#222">100</text>
<line x1="450.3" y1="103.05" x2="474.4" y2="103.05" stroke="#44583a" stroke-width="1.8"/>
<path d="M460.35 99.25L464.85 103.05L460.35 106.85Z" fill="#6a9a50" stroke="#4a7a3c" stroke-width="0.8"/>
<text x="479.8" y="107.15" font-size="12.3" text-anchor="start" fill="#222">250</text>
<polyline points="450.3,120.72 474.4,120.72" fill="none" stroke="#f6cb2c" stroke-width="1.6" stroke-dasharray="3.5 1.5" stroke-linejoin="round"/>
<polygon points="462.35,116.52 463.07,118.97 465.32,117.75 464.1,120 466.55,120.72 464.1,121.44 465.32,123.69 463.07,122.47 462.35,124.92 461.63,122.47 459.38,123.69 460.6,121.44 458.15,120.72 460.6,120 459.38,117.75 461.63,118.97" fill="#ffd21a" stroke="#f5c020" stroke-width="0.7"/>
<text x="479.8" y="124.82" font-size="12.3" text-anchor="start" fill="#222">500</text>
<line x1="87.8" y1="390.4" x2="87.8" y2="665.8" stroke="#1e1e1e" stroke-width="1.7"/>
<line x1="87" y1="665" x2="443.4" y2="665" stroke="#1e1e1e" stroke-width="1.7"/>
<line x1="80.4" y1="665" x2="87.8" y2="665" stroke="#1e1e1e" stroke-width="1.5"/>
<line x1="83.6" y1="651.25" x2="87.8" y2="651.25" stroke="#1e1e1e" stroke-width="1.3"/>
<line x1="83.6" y1="643.21" x2="87.8" y2="643.21" stroke="#1e1e1e" stroke-width="1.3"/>
<line x1="83.6" y1="637.5" x2="87.8" y2="637.5" stroke="#1e1e1e" stroke-width="1.3"/>
<line x1="83.6" y1="633.07" x2="87.8" y2="633.07" stroke="#1e1e1e" stroke-width="1.3"/>
<line x1="83.6" y1="629.45" x2="87.8" y2="629.45" stroke="#1e1e1e" stroke-width="1.3"/>
<line x1="83.6" y1="626.4" x2="87.8" y2="626.4" stroke="#1e1e1e" stroke-width="1.3"/>
<line x1="83.6" y1="623.75" x2="87.8" y2="623.75" stroke="#1e1e1e" stroke-width="1.3"/>
<line x1="83.6" y1="621.41" x2="87.8" y2="621.41" stroke="#1e1e1e" stroke-width="1.3"/>
<line x1="80.4" y1="619.32" x2="87.8" y2="619.32" stroke="#1e1e1e" stroke-width="1.5"/>
<line x1="83.6" y1="605.57" x2="87.8" y2="605.57" stroke="#1e1e1e" stroke-width="1.3"/>
<line x1="83.6" y1="597.53" x2="87.8" y2="597.53" stroke="#1e1e1e" stroke-width="1.3"/>
<line x1="83.6" y1="591.82" x2="87.8" y2="591.82" stroke="#1e1e1e" stroke-width="1.3"/>
<line x1="83.6" y1="587.39" x2="87.8" y2="587.39" stroke="#1e1e1e" stroke-width="1.3"/>
<line x1="83.6" y1="583.77" x2="87.8" y2="583.77" stroke="#1e1e1e" stroke-width="1.3"/>
<line x1="83.6" y1="580.72" x2="87.8" y2="580.72" stroke="#1e1e1e" stroke-width="1.3"/>
<line x1="83.6" y1="578.07" x2="87.8" y2="578.07" stroke="#1e1e1e" stroke-width="1.3"/>
<line x1="83.6" y1="575.73" x2="87.8" y2="575.73" stroke="#1e1e1e" stroke-width="1.3"/>
<line x1="80.4" y1="573.64" x2="87.8" y2="573.64" stroke="#1e1e1e" stroke-width="1.5"/>
<line x1="83.6" y1="559.89" x2="87.8" y2="559.89" stroke="#1e1e1e" stroke-width="1.3"/>
<line x1="83.6" y1="551.85" x2="87.8" y2="551.85" stroke="#1e1e1e" stroke-width="1.3"/>
<line x1="83.6" y1="546.14" x2="87.8" y2="546.14" stroke="#1e1e1e" stroke-width="1.3"/>
<line x1="83.6" y1="541.71" x2="87.8" y2="541.71" stroke="#1e1e1e" stroke-width="1.3"/>
<line x1="83.6" y1="538.09" x2="87.8" y2="538.09" stroke="#1e1e1e" stroke-width="1.3"/>
<line x1="83.6" y1="535.04" x2="87.8" y2="535.04" stroke="#1e1e1e" stroke-width="1.3"/>
<line x1="83.6" y1="532.39" x2="87.8" y2="532.39" stroke="#1e1e1e" stroke-width="1.3"/>
<line x1="83.6" y1="530.05" x2="87.8" y2="530.05" stroke="#1e1e1e" stroke-width="1.3"/>
<line x1="80.4" y1="527.96" x2="87.8" y2="527.96" stroke="#1e1e1e" stroke-width="1.5"/>
<line x1="83.6" y1="514.21" x2="87.8" y2="514.21" stroke="#1e1e1e" stroke-width="1.3"/>
<line x1="83.6" y1="506.17" x2="87.8" y2="506.17" stroke="#1e1e1e" stroke-width="1.3"/>
<line x1="83.6" y1="500.46" x2="87.8" y2="500.46" stroke="#1e1e1e" stroke-width="1.3"/>
<line x1="83.6" y1="496.03" x2="87.8" y2="496.03" stroke="#1e1e1e" stroke-width="1.3"/>
<line x1="83.6" y1="492.41" x2="87.8" y2="492.41" stroke="#1e1e1e" stroke-width="1.3"/>
<line x1="83.6" y1="489.36" x2="87.8" y2="489.36" stroke="#1e1e1e" stroke-width="1.3"/>
<line x1="83.6" y1="486.71" x2="87.8" y2="486.71" stroke="#1e1e1e" stroke-width="1.3"/>
<line x1="83.6" y1="484.37" x2="87.8" y2="484.37" stroke="#1e1e1e" stroke-width="1.3"/>
<line x1="80.4" y1="482.28" x2="87.8" y2="482.28" stroke="#1e1e1e" stroke-width="1.5"/>
<line x1="83.6" y1="468.53" x2="87.8" y2="468.53" stroke="#1e1e1e" stroke-width="1.3"/>
<line x1="83.6" y1="460.49" x2="87.8" y2="460.49" stroke="#1e1e1e" stroke-width="1.3"/>
<line x1="83.6" y1="454.78" x2="87.8" y2="454.78" stroke="#1e1e1e" stroke-width="1.3"/>
<line x1="83.6" y1="450.35" x2="87.8" y2="450.35" stroke="#1e1e1e" stroke-width="1.3"/>
<line x1="83.6" y1="446.73" x2="87.8" y2="446.73" stroke="#1e1e1e" stroke-width="1.3"/>
<line x1="83.6" y1="443.68" x2="87.8" y2="443.68" stroke="#1e1e1e" stroke-width="1.3"/>
<line x1="83.6" y1="441.03" x2="87.8" y2="441.03" stroke="#1e1e1e" stroke-width="1.3"/>
<line x1="83.6" y1="438.69" x2="87.8" y2="438.69" stroke="#1e1e1e" stroke-width="1.3"/>
<line x1="80.4" y1="436.6" x2="87.8" y2="436.6" stroke="#1e1e1e" stroke-width="1.5"/>
<line x1="83.6" y1="422.85" x2="87.8" y2="422.85" stroke="#1e1e1e" stroke-width="1.3"/>
<line x1="83.6" y1="414.81" x2="87.8" y2="414.81" stroke="#1e1e1e" stroke-width="1.3"/>
<line x1="83.6" y1="409.1" x2="87.8" y2="409.1" stroke="#1e1e1e" stroke-width="1.3"/>
<line x1="83.6" y1="404.67" x2="87.8" y2="404.67" stroke="#1e1e1e" stroke-width="1.3"/>
<line x1="83.6" y1="401.05" x2="87.8" y2="401.05" stroke="#1e1e1e" stroke-width="1.3"/>
<line x1="83.6" y1="398" x2="87.8" y2="398" stroke="#1e1e1e" stroke-width="1.3"/>
<line x1="83.6" y1="395.35" x2="87.8" y2="395.35" stroke="#1e1e1e" stroke-width="1.3"/>
<line x1="83.6" y1="393.01" x2="87.8" y2="393.01" stroke="#1e1e1e" stroke-width="1.3"/>
<line x1="83.6" y1="390.92" x2="87.8" y2="390.92" stroke="#1e1e1e" stroke-width="1.5"/>
<text x="0" y="0" font-size="12.3" text-anchor="end" fill="#222" transform="translate(75.2,393.52) scale(0.95,1)">1000</text>
<text x="0" y="0" font-size="12.3" text-anchor="end" fill="#222" transform="translate(75.2,440.2) scale(0.95,1)">100</text>
<text x="0" y="0" font-size="12.3" text-anchor="end" fill="#222" transform="translate(75.2,485.88) scale(0.95,1)">10</text>
<text x="0" y="0" font-size="12.3" text-anchor="end" fill="#222" transform="translate(75.2,531.56) scale(0.95,1)">1</text>
<text x="0" y="0" font-size="12.3" text-anchor="end" fill="#222" transform="translate(75.2,577.24) scale(0.95,1)">0.1</text>
<text x="0" y="0" font-size="12.3" text-anchor="end" fill="#222" transform="translate(75.2,622.92) scale(0.95,1)">0.01</text>
<text x="0" y="0" font-size="12.3" text-anchor="end" fill="#222" transform="translate(75.6,662) scale(0.95,1)">0.00</text>
<text x="74.8" y="675.5" font-size="12.3" text-anchor="end" fill="#222">1</text>
<line x1="87.8" y1="665" x2="87.8" y2="670" stroke="#1e1e1e" stroke-width="1.5"/>
<text x="0" y="0" font-size="12.3" text-anchor="middle" fill="#222" transform="translate(88.2,683.9) scale(0.95,1)">&#8211;50</text>
<line x1="158.8" y1="665" x2="158.8" y2="670" stroke="#1e1e1e" stroke-width="1.5"/>
<text x="0" y="0" font-size="12.3" text-anchor="middle" fill="#222" transform="translate(159.2,683.9) scale(0.95,1)">360</text>
<line x1="229.8" y1="665" x2="229.8" y2="670" stroke="#1e1e1e" stroke-width="1.5"/>
<text x="0" y="0" font-size="12.3" text-anchor="middle" fill="#222" transform="translate(230.2,683.9) scale(0.95,1)">770</text>
<line x1="300.8" y1="665" x2="300.8" y2="670" stroke="#1e1e1e" stroke-width="1.5"/>
<text x="0" y="0" font-size="12.3" text-anchor="middle" fill="#222" transform="translate(301.2,683.9) scale(0.95,1)">1180</text>
<line x1="371.8" y1="665" x2="371.8" y2="670" stroke="#1e1e1e" stroke-width="1.5"/>
<text x="0" y="0" font-size="12.3" text-anchor="middle" fill="#222" transform="translate(372.2,683.9) scale(0.95,1)">1590</text>
<line x1="442.8" y1="665" x2="442.8" y2="670" stroke="#1e1e1e" stroke-width="1.5"/>
<text x="0" y="0" font-size="12.3" text-anchor="middle" fill="#222" transform="translate(443.2,683.9) scale(0.95,1)">2000</text>
<line x1="123.3" y1="665" x2="123.3" y2="668.4" stroke="#1e1e1e" stroke-width="1.3"/>
<line x1="194.3" y1="665" x2="194.3" y2="668.4" stroke="#1e1e1e" stroke-width="1.3"/>
<line x1="265.3" y1="665" x2="265.3" y2="668.4" stroke="#1e1e1e" stroke-width="1.3"/>
<line x1="336.3" y1="665" x2="336.3" y2="668.4" stroke="#1e1e1e" stroke-width="1.3"/>
<line x1="407.3" y1="665" x2="407.3" y2="668.4" stroke="#1e1e1e" stroke-width="1.3"/>
<text x="0" y="0" font-size="13.8" fill="#262626" textLength="111.5" lengthAdjust="spacingAndGlyphs" transform="translate(210.0,702.6)">Time from 1st dose (h)</text>
<text x="0" y="0" font-size="13.8" fill="#262626" textLength="164" lengthAdjust="spacingAndGlyphs" transform="translate(40.2,611) rotate(-90)">Mean (SE) concentration (ug/mL)</text>
<text x="20.2" y="370.1" font-size="11.9" fill="#262626" textLength="84.4" lengthAdjust="spacingAndGlyphs">Log-linear scale</text>
<line x1="96.2" y1="430" x2="96.2" y2="662" stroke="#efdc80" stroke-width="1.2"/>
<line x1="97.5" y1="428.9" x2="97.5" y2="441" stroke="#f6cb2c" stroke-width="1.2" stroke-opacity="0.75"/>
<line x1="91" y1="428.9" x2="104" y2="428.9" stroke="#f6cb2c" stroke-width="1.2" stroke-opacity="0.75"/>
<line x1="91" y1="441" x2="104" y2="441" stroke="#f6cb2c" stroke-width="1.2" stroke-opacity="0.75"/>
<line x1="91.8" y1="431.92" x2="104.8" y2="431.92" stroke="#f6cb2c" stroke-width="1.3" stroke-opacity="0.7"/>
<line x1="91.3" y1="434.95" x2="102.3" y2="434.95" stroke="#f6cb2c" stroke-width="1.3" stroke-opacity="0.7"/>
<line x1="91.8" y1="437.98" x2="104.8" y2="437.98" stroke="#f6cb2c" stroke-width="1.3" stroke-opacity="0.7"/>
<line x1="126.8" y1="427.5" x2="126.8" y2="439.6" stroke="#f6cb2c" stroke-width="1.2" stroke-opacity="0.75"/>
<line x1="120.3" y1="427.5" x2="133.3" y2="427.5" stroke="#f6cb2c" stroke-width="1.2" stroke-opacity="0.75"/>
<line x1="120.3" y1="439.6" x2="133.3" y2="439.6" stroke="#f6cb2c" stroke-width="1.2" stroke-opacity="0.75"/>
<line x1="121.1" y1="430.52" x2="134.1" y2="430.52" stroke="#f6cb2c" stroke-width="1.3" stroke-opacity="0.7"/>
<line x1="120.6" y1="433.55" x2="131.6" y2="433.55" stroke="#f6cb2c" stroke-width="1.3" stroke-opacity="0.7"/>
<line x1="121.1" y1="436.58" x2="134.1" y2="436.58" stroke="#f6cb2c" stroke-width="1.3" stroke-opacity="0.7"/>
<line x1="155.7" y1="423.5" x2="155.7" y2="437" stroke="#f6cb2c" stroke-width="1.2" stroke-opacity="0.75"/>
<line x1="149.2" y1="423.5" x2="162.2" y2="423.5" stroke="#f6cb2c" stroke-width="1.2" stroke-opacity="0.75"/>
<line x1="149.2" y1="437" x2="162.2" y2="437" stroke="#f6cb2c" stroke-width="1.2" stroke-opacity="0.75"/>
<line x1="150" y1="426.88" x2="163" y2="426.88" stroke="#f6cb2c" stroke-width="1.3" stroke-opacity="0.7"/>
<line x1="149.5" y1="430.25" x2="160.5" y2="430.25" stroke="#f6cb2c" stroke-width="1.3" stroke-opacity="0.7"/>
<line x1="150" y1="433.62" x2="163" y2="433.62" stroke="#f6cb2c" stroke-width="1.3" stroke-opacity="0.7"/>
<line x1="184.5" y1="418" x2="184.5" y2="434.3" stroke="#f6cb2c" stroke-width="1.2" stroke-opacity="0.75"/>
<line x1="178" y1="418" x2="191" y2="418" stroke="#f6cb2c" stroke-width="1.2" stroke-opacity="0.75"/>
<line x1="178" y1="434.3" x2="191" y2="434.3" stroke="#f6cb2c" stroke-width="1.2" stroke-opacity="0.75"/>
<line x1="178.8" y1="422.07" x2="191.8" y2="422.07" stroke="#f6cb2c" stroke-width="1.3" stroke-opacity="0.7"/>
<line x1="178.3" y1="426.15" x2="189.3" y2="426.15" stroke="#f6cb2c" stroke-width="1.3" stroke-opacity="0.7"/>
<line x1="178.8" y1="430.23" x2="191.8" y2="430.23" stroke="#f6cb2c" stroke-width="1.3" stroke-opacity="0.7"/>
<line x1="213.5" y1="430" x2="213.5" y2="437" stroke="#f6cb2c" stroke-width="1.2" stroke-opacity="0.8"/>
<line x1="207.5" y1="430" x2="219.5" y2="430" stroke="#f6cb2c" stroke-width="1.2" stroke-opacity="0.8"/>
<line x1="207.5" y1="437" x2="219.5" y2="437" stroke="#f6cb2c" stroke-width="1.2" stroke-opacity="0.8"/>
<line x1="299.5" y1="448.5" x2="299.5" y2="456.6" stroke="#f6cb2c" stroke-width="1.2" stroke-opacity="0.85"/>
<line x1="293.5" y1="448.5" x2="305.5" y2="448.5" stroke="#f6cb2c" stroke-width="1.2" stroke-opacity="0.85"/>
<line x1="293.5" y1="456.6" x2="305.5" y2="456.6" stroke="#f6cb2c" stroke-width="1.2" stroke-opacity="0.85"/>
<line x1="417.3" y1="470" x2="417.3" y2="481" stroke="#f6cb2c" stroke-width="1.2" stroke-opacity="0.85"/>
<line x1="411.3" y1="470" x2="423.3" y2="470" stroke="#f6cb2c" stroke-width="1.2" stroke-opacity="0.85"/>
<line x1="411.3" y1="481" x2="423.3" y2="481" stroke="#f6cb2c" stroke-width="1.2" stroke-opacity="0.85"/>
<polyline points="97.5,435.4 100,438.3 120.4,441 126.8,433.4 130,431 150,435.6 155.7,430.5 160,430 178,430 184.5,426 193,431.6 213.5,434 299.5,452.3 417.3,475" fill="none" stroke="#f6cb2c" stroke-width="1.5" stroke-dasharray="4 2.2" stroke-linejoin="round"/>
<polygon points="97.5,429.9 98.29,432.59 100.75,431.25 99.41,433.71 102.1,434.5 99.41,435.29 100.75,437.75 98.29,436.41 97.5,439.1 96.71,436.41 94.25,437.75 95.59,435.29 92.9,434.5 95.59,433.71 94.25,431.25 96.71,432.59" fill="#ffd21a" stroke="#f5c020" stroke-width="0.8"/>
<polygon points="126.8,428.8 127.59,431.49 130.05,430.15 128.71,432.61 131.4,433.4 128.71,434.19 130.05,436.65 127.59,435.31 126.8,438 126.01,435.31 123.55,436.65 124.89,434.19 122.2,433.4 124.89,432.61 123.55,430.15 126.01,431.49" fill="#ffd21a" stroke="#f5c020" stroke-width="0.8"/>
<polygon points="155.7,425.9 156.49,428.59 158.95,427.25 157.61,429.71 160.3,430.5 157.61,431.29 158.95,433.75 156.49,432.41 155.7,435.1 154.91,432.41 152.45,433.75 153.79,431.29 151.1,430.5 153.79,429.71 152.45,427.25 154.91,428.59" fill="#ffd21a" stroke="#f5c020" stroke-width="0.8"/>
<polygon points="184.5,421.4 185.29,424.09 187.75,422.75 186.41,425.21 189.1,426 186.41,426.79 187.75,429.25 185.29,427.91 184.5,430.6 183.71,427.91 181.25,429.25 182.59,426.79 179.9,426 182.59,425.21 181.25,422.75 183.71,424.09" fill="#ffd21a" stroke="#f5c020" stroke-width="0.8"/>
<polygon points="128,425.4 128.79,428.09 131.25,426.75 129.91,429.21 132.6,430 129.91,430.79 131.25,433.25 128.79,431.91 128,434.6 127.21,431.91 124.75,433.25 126.09,430.79 123.4,430 126.09,429.21 124.75,426.75 127.21,428.09" fill="#ffd21a" stroke="#f5c020" stroke-width="0.8"/>
<polygon points="157,422.4 157.79,425.09 160.25,423.75 158.91,426.21 161.6,427 158.91,427.79 160.25,430.25 157.79,428.91 157,431.6 156.21,428.91 153.75,430.25 155.09,427.79 152.4,427 155.09,426.21 153.75,423.75 156.21,425.09" fill="#ffd21a" stroke="#f5c020" stroke-width="0.8"/>
<polygon points="186,417.4 186.79,420.09 189.25,418.75 187.91,421.21 190.6,422 187.91,422.79 189.25,425.25 186.79,423.91 186,426.6 185.21,423.91 182.75,425.25 184.09,422.79 181.4,422 184.09,421.21 182.75,418.75 185.21,420.09" fill="#ffd21a" stroke="#f5c020" stroke-width="0.8"/>
<line x1="210.1" y1="434" x2="216.9" y2="434" stroke="#f6cb2c" stroke-width="1.3"/>
<line x1="211.1" y1="431.6" x2="215.9" y2="436.4" stroke="#f6cb2c" stroke-width="1.3"/>
<line x1="213.5" y1="430.6" x2="213.5" y2="437.4" stroke="#f6cb2c" stroke-width="1.3"/>
<line x1="215.9" y1="431.6" x2="211.1" y2="436.4" stroke="#f6cb2c" stroke-width="1.3"/>
<line x1="296.1" y1="452.3" x2="302.9" y2="452.3" stroke="#f6cb2c" stroke-width="1.3"/>
<line x1="297.1" y1="449.9" x2="301.9" y2="454.7" stroke="#f6cb2c" stroke-width="1.3"/>
<line x1="299.5" y1="448.9" x2="299.5" y2="455.7" stroke="#f6cb2c" stroke-width="1.3"/>
<line x1="301.9" y1="449.9" x2="297.1" y2="454.7" stroke="#f6cb2c" stroke-width="1.3"/>
<line x1="413.9" y1="475" x2="420.7" y2="475" stroke="#f6cb2c" stroke-width="1.3"/>
<line x1="414.9" y1="472.6" x2="419.7" y2="477.4" stroke="#f6cb2c" stroke-width="1.3"/>
<line x1="417.3" y1="471.6" x2="417.3" y2="478.4" stroke="#f6cb2c" stroke-width="1.3"/>
<line x1="419.7" y1="472.6" x2="414.9" y2="477.4" stroke="#f6cb2c" stroke-width="1.3"/>
<path d="M96.2 578.8L98.92 582.2L96.2 585.6L93.48 582.2Z" fill="none" stroke="#e8c030" stroke-width="1.1"/>
<line x1="91.2" y1="569" x2="101.2" y2="569" stroke="#c8d050" stroke-width="1.1"/>
<line x1="91.2" y1="595" x2="101.2" y2="595" stroke="#d0c060" stroke-width="1.0" stroke-opacity="0.6"/>
<line x1="89.5" y1="603.8" x2="101.5" y2="603.8" stroke="#555" stroke-width="1.1"/>
<line x1="91.2" y1="662" x2="101.2" y2="662" stroke="#f3d860" stroke-width="1.0"/>
<line x1="97" y1="466" x2="97" y2="476" stroke="#a58ad6" stroke-width="1.1" stroke-opacity="0.9"/>
<line x1="91.5" y1="467.7" x2="102.5" y2="467.7" stroke="#a58ad6" stroke-width="1.2" stroke-opacity="0.85"/>
<line x1="91.5" y1="469.6" x2="102.5" y2="469.6" stroke="#a58ad6" stroke-width="1.2" stroke-opacity="0.85"/>
<line x1="91.5" y1="472.7" x2="102.5" y2="472.7" stroke="#a58ad6" stroke-width="1.2" stroke-opacity="0.85"/>
<line x1="91.5" y1="475.3" x2="102.5" y2="475.3" stroke="#a58ad6" stroke-width="1.2" stroke-opacity="0.85"/>
<line x1="125.4" y1="462" x2="125.4" y2="471" stroke="#a58ad6" stroke-width="1.1" stroke-opacity="0.9"/>
<line x1="119.9" y1="463.3" x2="130.9" y2="463.3" stroke="#a58ad6" stroke-width="1.2" stroke-opacity="0.85"/>
<line x1="119.9" y1="465.2" x2="130.9" y2="465.2" stroke="#a58ad6" stroke-width="1.2" stroke-opacity="0.85"/>
<line x1="119.9" y1="467.1" x2="130.9" y2="467.1" stroke="#a58ad6" stroke-width="1.2" stroke-opacity="0.85"/>
<line x1="119.9" y1="469" x2="130.9" y2="469" stroke="#a58ad6" stroke-width="1.2" stroke-opacity="0.85"/>
<line x1="155" y1="466" x2="155" y2="476" stroke="#a58ad6" stroke-width="1.1" stroke-opacity="0.9"/>
<line x1="149.5" y1="467.7" x2="160.5" y2="467.7" stroke="#a58ad6" stroke-width="1.2" stroke-opacity="0.85"/>
<line x1="149.5" y1="470" x2="160.5" y2="470" stroke="#a58ad6" stroke-width="1.2" stroke-opacity="0.85"/>
<line x1="149.5" y1="472.5" x2="160.5" y2="472.5" stroke="#a58ad6" stroke-width="1.2" stroke-opacity="0.85"/>
<line x1="149.5" y1="475.4" x2="160.5" y2="475.4" stroke="#a58ad6" stroke-width="1.2" stroke-opacity="0.85"/>
<line x1="184" y1="461" x2="184" y2="471" stroke="#a58ad6" stroke-width="1.1" stroke-opacity="0.9"/>
<line x1="178.5" y1="462.8" x2="189.5" y2="462.8" stroke="#a58ad6" stroke-width="1.2" stroke-opacity="0.85"/>
<line x1="178.5" y1="465.4" x2="189.5" y2="465.4" stroke="#a58ad6" stroke-width="1.2" stroke-opacity="0.85"/>
<line x1="178.5" y1="468" x2="189.5" y2="468" stroke="#a58ad6" stroke-width="1.2" stroke-opacity="0.85"/>
<line x1="178.5" y1="471.3" x2="189.5" y2="471.3" stroke="#a58ad6" stroke-width="1.2" stroke-opacity="0.85"/>
<line x1="213" y1="469.5" x2="213" y2="474" stroke="#a58ad6" stroke-width="1.1"/>
<line x1="208" y1="469.5" x2="218" y2="469.5" stroke="#a58ad6" stroke-width="1.1"/>
<line x1="208" y1="474" x2="218" y2="474" stroke="#a58ad6" stroke-width="1.1"/>
<polyline points="97,469.6 98.6,477.8 118.7,470.9 125.4,466 152,470 155,470.5 181,468 184,465.4 212.7,471.5 299.5,502.8 417.3,538.8" fill="none" stroke="#a58ad6" stroke-width="1.4" stroke-dasharray="4 1.6 1.2 1.6" stroke-linejoin="round"/>
<circle cx="97" cy="469.6" r="2.5" fill="none" stroke="#a58ad6" stroke-width="1.0"/>
<circle cx="125.4" cy="466" r="2.5" fill="none" stroke="#a58ad6" stroke-width="1.0"/>
<circle cx="155" cy="470.5" r="2.5" fill="none" stroke="#a58ad6" stroke-width="1.0"/>
<circle cx="184" cy="465.4" r="2.5" fill="none" stroke="#a58ad6" stroke-width="1.0"/>
<circle cx="213" cy="471.5" r="2.5" fill="none" stroke="#a58ad6" stroke-width="1.0"/>
<circle cx="299.5" cy="502.8" r="2.5" fill="none" stroke="#a58ad6" stroke-width="1.0"/>
<circle cx="417.3" cy="538.8" r="2.5" fill="none" stroke="#a58ad6" stroke-width="1.0"/>
<line x1="97" y1="450" x2="97" y2="545" stroke="#a3cd2b" stroke-width="1.3"/>
<line x1="97" y1="483.4" x2="97" y2="515" stroke="#a3cd2b" stroke-width="1.3" stroke-opacity="0.9"/>
<line x1="90.8" y1="483.4" x2="103.2" y2="483.4" stroke="#a3cd2b" stroke-width="1.3" stroke-opacity="0.85"/>
<line x1="90.8" y1="490.4" x2="103.2" y2="490.4" stroke="#a3cd2b" stroke-width="1.3" stroke-opacity="0.85"/>
<line x1="90.8" y1="495.4" x2="103.2" y2="495.4" stroke="#a3cd2b" stroke-width="1.3" stroke-opacity="0.85"/>
<line x1="90.8" y1="502.3" x2="103.2" y2="502.3" stroke="#a3cd2b" stroke-width="1.3" stroke-opacity="0.85"/>
<line x1="90.8" y1="506.1" x2="103.2" y2="506.1" stroke="#a3cd2b" stroke-width="1.3" stroke-opacity="0.85"/>
<line x1="90.8" y1="515" x2="103.2" y2="515" stroke="#a3cd2b" stroke-width="1.3" stroke-opacity="0.85"/>
<line x1="125.4" y1="481.6" x2="125.4" y2="502" stroke="#a3cd2b" stroke-width="1.3" stroke-opacity="0.9"/>
<line x1="119.2" y1="481.6" x2="131.6" y2="481.6" stroke="#a3cd2b" stroke-width="1.3" stroke-opacity="0.85"/>
<line x1="119.2" y1="483.4" x2="131.6" y2="483.4" stroke="#a3cd2b" stroke-width="1.3" stroke-opacity="0.85"/>
<line x1="119.2" y1="487.2" x2="131.6" y2="487.2" stroke="#a3cd2b" stroke-width="1.3" stroke-opacity="0.85"/>
<line x1="119.2" y1="490.4" x2="131.6" y2="490.4" stroke="#a3cd2b" stroke-width="1.3" stroke-opacity="0.85"/>
<line x1="119.2" y1="498" x2="131.6" y2="498" stroke="#a3cd2b" stroke-width="1.3" stroke-opacity="0.85"/>
<line x1="119.2" y1="499.8" x2="131.6" y2="499.8" stroke="#a3cd2b" stroke-width="1.3" stroke-opacity="0.85"/>
<line x1="119.2" y1="501.7" x2="131.6" y2="501.7" stroke="#a3cd2b" stroke-width="1.3" stroke-opacity="0.85"/>
<line x1="155" y1="478" x2="155" y2="489" stroke="#a3cd2b" stroke-width="1.3" stroke-opacity="0.9"/>
<line x1="148.8" y1="478" x2="161.2" y2="478" stroke="#a3cd2b" stroke-width="1.3" stroke-opacity="0.85"/>
<line x1="148.8" y1="481.8" x2="161.2" y2="481.8" stroke="#a3cd2b" stroke-width="1.3" stroke-opacity="0.85"/>
<line x1="148.8" y1="485.5" x2="161.2" y2="485.5" stroke="#a3cd2b" stroke-width="1.3" stroke-opacity="0.85"/>
<line x1="148.8" y1="488.5" x2="161.2" y2="488.5" stroke="#a3cd2b" stroke-width="1.3" stroke-opacity="0.85"/>
<line x1="184" y1="473" x2="184" y2="486" stroke="#a3cd2b" stroke-width="1.3" stroke-opacity="0.9"/>
<line x1="177.8" y1="473" x2="190.2" y2="473" stroke="#a3cd2b" stroke-width="1.3" stroke-opacity="0.85"/>
<line x1="177.8" y1="476.6" x2="190.2" y2="476.6" stroke="#a3cd2b" stroke-width="1.3" stroke-opacity="0.85"/>
<line x1="177.8" y1="480" x2="190.2" y2="480" stroke="#a3cd2b" stroke-width="1.3" stroke-opacity="0.85"/>
<line x1="177.8" y1="483.5" x2="190.2" y2="483.5" stroke="#a3cd2b" stroke-width="1.3" stroke-opacity="0.85"/>
<line x1="177.8" y1="486" x2="190.2" y2="486" stroke="#a3cd2b" stroke-width="1.3" stroke-opacity="0.85"/>
<line x1="213" y1="481" x2="213" y2="487" stroke="#a3cd2b" stroke-width="1.1"/>
<line x1="208" y1="481" x2="218" y2="481" stroke="#a3cd2b" stroke-width="1.1"/>
<line x1="208" y1="487" x2="218" y2="487" stroke="#a3cd2b" stroke-width="1.1"/>
<polyline points="97,490 97,495.4 104.9,498 118.7,498.6 125.4,484 127,487.7 152.7,484.6 155,481.8 181,480 184,476.6 212.7,484.4 299.5,520.6 417.3,567.7" fill="none" stroke="#a3cd2b" stroke-width="1.5" stroke-dasharray="5 2 1.5 2" stroke-linejoin="round"/>
<circle cx="97" cy="490.4" r="2.4" fill="none" stroke="#a3cd2b" stroke-width="1.0"/>
<circle cx="97" cy="495.4" r="2.4" fill="none" stroke="#a3cd2b" stroke-width="1.0"/>
<circle cx="125.4" cy="484" r="2.4" fill="none" stroke="#a3cd2b" stroke-width="1.0"/>
<circle cx="125.4" cy="499.8" r="2.4" fill="none" stroke="#a3cd2b" stroke-width="1.0"/>
<circle cx="155" cy="481.8" r="2.4" fill="none" stroke="#a3cd2b" stroke-width="1.0"/>
<circle cx="184" cy="476.6" r="2.4" fill="none" stroke="#a3cd2b" stroke-width="1.0"/>
<circle cx="212.7" cy="484.4" r="2.4" fill="none" stroke="#a3cd2b" stroke-width="1.0"/>
<circle cx="299.5" cy="520.6" r="2.4" fill="none" stroke="#a3cd2b" stroke-width="1.0"/>
<circle cx="417.3" cy="567.7" r="2.4" fill="none" stroke="#a3cd2b" stroke-width="1.0"/>
<line x1="98.5" y1="441" x2="98.5" y2="460" stroke="#3d7a2c" stroke-width="1.3"/>
<line x1="91.7" y1="456.4" x2="105.3" y2="456.4" stroke="#3d7a2c" stroke-width="1.3"/>
<line x1="92" y1="447.6" x2="105" y2="447.6" stroke="#8f9a3a" stroke-width="1.3" stroke-opacity="0.9"/>
<line x1="92" y1="450.7" x2="105" y2="450.7" stroke="#8f9a3a" stroke-width="1.3" stroke-opacity="0.9"/>
<line x1="92" y1="453.2" x2="105" y2="453.2" stroke="#8f9a3a" stroke-width="1.3" stroke-opacity="0.9"/>
<line x1="126" y1="441" x2="126" y2="476" stroke="#3d7a2c" stroke-width="1.3"/>
<line x1="119.2" y1="441.6" x2="132.8" y2="441.6" stroke="#3d7a2c" stroke-width="1.3"/>
<line x1="119.2" y1="443.8" x2="132.8" y2="443.8" stroke="#3d7a2c" stroke-width="1.3"/>
<line x1="119.2" y1="445.9" x2="132.8" y2="445.9" stroke="#3d7a2c" stroke-width="1.3"/>
<line x1="119.5" y1="450.1" x2="132.5" y2="450.1" stroke="#8f9a3a" stroke-width="1.3" stroke-opacity="0.9"/>
<line x1="119.5" y1="455.4" x2="132.5" y2="455.4" stroke="#8f9a3a" stroke-width="1.3" stroke-opacity="0.9"/>
<line x1="155.5" y1="437" x2="155.5" y2="463" stroke="#3d7a2c" stroke-width="1.3"/>
<line x1="148.7" y1="439.5" x2="162.3" y2="439.5" stroke="#3d7a2c" stroke-width="1.3"/>
<line x1="148.7" y1="441.6" x2="162.3" y2="441.6" stroke="#3d7a2c" stroke-width="1.3"/>
<line x1="148.7" y1="445.9" x2="162.3" y2="445.9" stroke="#3d7a2c" stroke-width="1.3"/>
<line x1="148.7" y1="458.6" x2="162.3" y2="458.6" stroke="#3d7a2c" stroke-width="1.3"/>
<line x1="149" y1="452.2" x2="162" y2="452.2" stroke="#8f9a3a" stroke-width="1.3" stroke-opacity="0.9"/>
<line x1="185" y1="434" x2="185" y2="462" stroke="#3d7a2c" stroke-width="1.3"/>
<line x1="178.2" y1="437.4" x2="191.8" y2="437.4" stroke="#3d7a2c" stroke-width="1.3"/>
<line x1="178.2" y1="439.5" x2="191.8" y2="439.5" stroke="#3d7a2c" stroke-width="1.3"/>
<line x1="178.2" y1="451.2" x2="191.8" y2="451.2" stroke="#3d7a2c" stroke-width="1.3"/>
<line x1="178.2" y1="460.7" x2="191.8" y2="460.7" stroke="#3d7a2c" stroke-width="1.3"/>
<line x1="213.5" y1="447" x2="213.5" y2="454" stroke="#3d7a2c" stroke-width="1.2"/>
<line x1="207.5" y1="447" x2="219.5" y2="447" stroke="#3d7a2c" stroke-width="1.2"/>
<line x1="207.5" y1="454" x2="219.5" y2="454" stroke="#3d7a2c" stroke-width="1.2"/>
<line x1="299.5" y1="476.3" x2="299.5" y2="487" stroke="#3d7a2c" stroke-width="1.2"/>
<line x1="294" y1="476.3" x2="305" y2="476.3" stroke="#3d7a2c" stroke-width="1.2"/>
<line x1="294" y1="487" x2="305" y2="487" stroke="#3d7a2c" stroke-width="1.2"/>
<line x1="417.3" y1="499" x2="417.3" y2="515.8" stroke="#3d7a2c" stroke-width="1.2"/>
<line x1="412.3" y1="499" x2="422.3" y2="499" stroke="#3d7a2c" stroke-width="1.2"/>
<line x1="412.3" y1="515.8" x2="422.3" y2="515.8" stroke="#3d7a2c" stroke-width="1.2"/>
<polyline points="99.9,447.5 123.8,472.1 125.5,473.4 128.3,442 154.6,461.7 157.8,441.6 183.2,456.4 186,435.3 213.5,450.9 299.5,482.1 388.5,502.8 417.3,507.6" fill="none" stroke="#3d7a2c" stroke-width="1.6" stroke-linejoin="round"/>
<path d="M125.5 469.6L128.54 473.4L125.5 477.2L122.46 473.4Z" fill="none" stroke="#3d7a2c" stroke-width="1.1"/>
<path d="M154.6 457.9L157.64 461.7L154.6 465.5L151.56 461.7Z" fill="none" stroke="#3d7a2c" stroke-width="1.1"/>
<path d="M183.2 452.6L186.24 456.4L183.2 460.2L180.16 456.4Z" fill="none" stroke="#3d7a2c" stroke-width="1.1"/>
<path d="M213.5 447.1L216.54 450.9L213.5 454.7L210.46 450.9Z" fill="none" stroke="#3d7a2c" stroke-width="1.1"/>
<path d="M299.5 478.3L302.54 482.1L299.5 485.9L296.46 482.1Z" fill="none" stroke="#3d7a2c" stroke-width="1.1"/>
<path d="M388.5 499L391.54 502.8L388.5 506.6L385.46 502.8Z" fill="none" stroke="#3d7a2c" stroke-width="1.1"/>
<path d="M417.3 503.8L420.34 507.6L417.3 511.4L414.26 507.6Z" fill="none" stroke="#3d7a2c" stroke-width="1.1"/>
<path d="M126 454.2L129.04 458L126 461.8L122.96 458Z" fill="none" stroke="#3d7a2c" stroke-width="1.1"/>
<path d="M155.5 445.2L158.54 449L155.5 452.8L152.46 449Z" fill="none" stroke="#3d7a2c" stroke-width="1.1"/>
<line x1="96.2" y1="447" x2="103" y2="447" stroke="#3d7a2c" stroke-width="1.2"/>
<line x1="97.2" y1="444.6" x2="102" y2="449.4" stroke="#3d7a2c" stroke-width="1.2"/>
<line x1="99.6" y1="443.6" x2="99.6" y2="450.4" stroke="#3d7a2c" stroke-width="1.2"/>
<line x1="102" y1="444.6" x2="97.2" y2="449.4" stroke="#3d7a2c" stroke-width="1.2"/>
<line x1="124.9" y1="442" x2="131.7" y2="442" stroke="#3d7a2c" stroke-width="1.2"/>
<line x1="125.9" y1="439.6" x2="130.7" y2="444.4" stroke="#3d7a2c" stroke-width="1.2"/>
<line x1="128.3" y1="438.6" x2="128.3" y2="445.4" stroke="#3d7a2c" stroke-width="1.2"/>
<line x1="130.7" y1="439.6" x2="125.9" y2="444.4" stroke="#3d7a2c" stroke-width="1.2"/>
<line x1="154.4" y1="441.6" x2="161.2" y2="441.6" stroke="#3d7a2c" stroke-width="1.2"/>
<line x1="155.4" y1="439.2" x2="160.2" y2="444" stroke="#3d7a2c" stroke-width="1.2"/>
<line x1="157.8" y1="438.2" x2="157.8" y2="445" stroke="#3d7a2c" stroke-width="1.2"/>
<line x1="160.2" y1="439.2" x2="155.4" y2="444" stroke="#3d7a2c" stroke-width="1.2"/>
<line x1="182.6" y1="435.3" x2="189.4" y2="435.3" stroke="#3d7a2c" stroke-width="1.2"/>
<line x1="183.6" y1="432.9" x2="188.4" y2="437.7" stroke="#3d7a2c" stroke-width="1.2"/>
<line x1="186" y1="431.9" x2="186" y2="438.7" stroke="#3d7a2c" stroke-width="1.2"/>
<line x1="188.4" y1="432.9" x2="183.6" y2="437.7" stroke="#3d7a2c" stroke-width="1.2"/>
<line x1="97" y1="530" x2="97" y2="552" stroke="#d8431c" stroke-width="1.0" stroke-opacity="0.8"/>
<line x1="126" y1="514" x2="126" y2="536" stroke="#d8431c" stroke-width="1.0" stroke-opacity="0.8"/>
<line x1="155" y1="514" x2="155" y2="532" stroke="#d8431c" stroke-width="1.0" stroke-opacity="0.8"/>
<line x1="184.5" y1="512" x2="184.5" y2="528" stroke="#d8431c" stroke-width="1.0" stroke-opacity="0.8"/>
<polyline points="99.4,534.6 124,533.2 128.3,517.3 154.2,528.8 157,521.6 183,524.5 187,520 212,530.3" fill="none" stroke="#d8431c" stroke-width="1.4" stroke-dasharray="1.4 1.6" stroke-linejoin="round"/>
<rect x="92.9" y="533.9" width="7.2" height="7.2" fill="none" stroke="#d8431c" stroke-width="1.2"/>
<rect x="95.8" y="531" width="7.2" height="7.2" fill="none" stroke="#d8431c" stroke-width="1.2"/>
<rect x="92.9" y="544" width="7.2" height="7.2" fill="none" stroke="#d8431c" stroke-width="1.2"/>
<rect x="121.8" y="516.6" width="7.2" height="7.2" fill="none" stroke="#d8431c" stroke-width="1.2"/>
<rect x="124.7" y="513.7" width="7.2" height="7.2" fill="none" stroke="#d8431c" stroke-width="1.2"/>
<rect x="121.8" y="529.6" width="7.2" height="7.2" fill="none" stroke="#d8431c" stroke-width="1.2"/>
<rect x="150.6" y="513.7" width="7.2" height="7.2" fill="none" stroke="#d8431c" stroke-width="1.2"/>
<rect x="153.4" y="518" width="7.2" height="7.2" fill="none" stroke="#d8431c" stroke-width="1.2"/>
<rect x="150.6" y="525.2" width="7.2" height="7.2" fill="none" stroke="#d8431c" stroke-width="1.2"/>
<rect x="180.9" y="512.3" width="7.2" height="7.2" fill="none" stroke="#d8431c" stroke-width="1.2"/>
<rect x="180.9" y="518" width="7.2" height="7.2" fill="none" stroke="#d8431c" stroke-width="1.2"/>
<rect x="180.9" y="520.9" width="7.2" height="7.2" fill="none" stroke="#d8431c" stroke-width="1.2"/>
<rect x="208.4" y="526.7" width="7.2" height="7.2" fill="none" stroke="#d8431c" stroke-width="1.2"/>
<line x1="96.5" y1="526" x2="96.5" y2="556" stroke="#7a62cc" stroke-width="1.1" stroke-opacity="0.9" stroke-dasharray="3 1.5 1 1.5"/>
<line x1="91.5" y1="526" x2="101.5" y2="526" stroke="#7a62cc" stroke-width="1.1"/>
<line x1="125.4" y1="528" x2="125.4" y2="572" stroke="#7a62cc" stroke-width="1.1" stroke-opacity="0.9" stroke-dasharray="3 1.5 1 1.5"/>
<line x1="120.4" y1="528" x2="130.4" y2="528" stroke="#7a62cc" stroke-width="1.1"/>
<line x1="154.2" y1="532" x2="154.2" y2="570" stroke="#7a62cc" stroke-width="1.1" stroke-opacity="0.9" stroke-dasharray="3 1.5 1 1.5"/>
<line x1="149.2" y1="532" x2="159.2" y2="532" stroke="#7a62cc" stroke-width="1.1"/>
<line x1="184" y1="530" x2="184" y2="562" stroke="#7a62cc" stroke-width="1.1" stroke-opacity="0.9" stroke-dasharray="3 1.5 1 1.5"/>
<line x1="179" y1="530" x2="189" y2="530" stroke="#7a62cc" stroke-width="1.1"/>
<line x1="91.5" y1="560.6" x2="101.5" y2="560.6" stroke="#7a62cc" stroke-width="1.1"/>
<line x1="91.5" y1="569" x2="101.5" y2="569" stroke="#7a62cc" stroke-width="1.0"/>
<polyline points="97,540 125.4,570.7 127,530.3 154.2,569.2 156,537.5 183,560.6 185,534.6" fill="none" stroke="#7a62cc" stroke-width="1.5" stroke-dasharray="4 1.8" stroke-linejoin="round"/>
<path d="M96.5 535.4L100.1 541.7L92.9 541.7Z" fill="none" stroke="#7a62cc" stroke-width="1.1"/>
<path d="M96.5 557L100.1 563.3L92.9 563.3Z" fill="none" stroke="#7a62cc" stroke-width="1.1"/>
<path d="M125.4 567.1L129 573.4L121.8 573.4Z" fill="none" stroke="#7a62cc" stroke-width="1.1"/>
<path d="M125.4 526.7L129 533L121.8 533Z" fill="none" stroke="#7a62cc" stroke-width="1.1"/>
<path d="M154.2 565.6L157.8 571.9L150.6 571.9Z" fill="none" stroke="#7a62cc" stroke-width="1.1"/>
<path d="M154.2 533.9L157.8 540.2L150.6 540.2Z" fill="none" stroke="#7a62cc" stroke-width="1.1"/>
<path d="M183 557L186.6 563.3L179.4 563.3Z" fill="none" stroke="#7a62cc" stroke-width="1.1"/>
<path d="M185 531L188.6 537.3L181.4 537.3Z" fill="none" stroke="#7a62cc" stroke-width="1.1"/>
<polyline points="125.4,608.2 213.4,598.9" fill="none" stroke="#141414" stroke-width="2.0" stroke-linejoin="round"/>
<circle cx="125.4" cy="608.2" r="3.8" fill="#141414" stroke="#141414" stroke-width="0.6"/>
<circle cx="213.4" cy="598.9" r="3.8" fill="#141414" stroke="#141414" stroke-width="0.6"/>
<line x1="213.4" y1="598.9" x2="219" y2="598.9" stroke="#555" stroke-width="1.0"/>
<line x1="453.7" y1="387" x2="477.7" y2="387" stroke="#141414" stroke-width="2.0"/>
<circle cx="465.7" cy="387" r="3.8" fill="#141414" stroke="#141414" stroke-width="0.5"/>
<text x="482.6" y="391.1" font-size="12.3" text-anchor="start" fill="#222">0.5</text>
<polyline points="453.7,404.4 477.7,404.4" fill="none" stroke="#7a62cc" stroke-width="1.3" stroke-dasharray="2.5 2" stroke-linejoin="round"/>
<path d="M465.7 399.9L469.7 406.9L461.7 406.9Z" fill="white" stroke="#7a62cc" stroke-width="1.1"/>
<text x="482.6" y="408.5" font-size="12.3" text-anchor="start" fill="#222">5</text>
<polyline points="453.7,421.8 477.7,421.8" fill="none" stroke="#e07030" stroke-width="1.0" stroke-dasharray="1 2" stroke-linejoin="round"/>
<rect x="462" y="418.1" width="7.4" height="7.4" fill="white" stroke="#d8431c" stroke-width="1.3"/>
<text x="482.6" y="425.9" font-size="12.3" text-anchor="start" fill="#222">10</text>
<polyline points="453.7,439.2 477.7,439.2" fill="none" stroke="#a3cd2b" stroke-width="1.6" stroke-dasharray="3.5 1.8" stroke-linejoin="round"/>
<circle cx="465.7" cy="439.2" r="2.8" fill="#c8e070" stroke="#a3cd2b" stroke-width="1.1"/>
<text x="482.6" y="443.3" font-size="12.3" text-anchor="start" fill="#222">50</text>
<polyline points="453.7,456.6 477.7,456.6" fill="none" stroke="#a58ad6" stroke-width="1.4" stroke-dasharray="2.5 1.5 1 1.5" stroke-linejoin="round"/>
<circle cx="465.7" cy="456.6" r="2.8" fill="white" stroke="#a58ad6" stroke-width="1.1"/>
<text x="482.6" y="460.7" font-size="12.3" text-anchor="start" fill="#222">100</text>
<line x1="453.7" y1="474" x2="477.7" y2="474" stroke="#3d7a2c" stroke-width="2.0"/>
<path d="M465.7 470.2L468.74 474L465.7 477.8L462.66 474Z" fill="white" stroke="#3d7a2c" stroke-width="1.1"/>
<text x="482.6" y="478.1" font-size="12.3" text-anchor="start" fill="#222">250</text>
<polyline points="453.7,491.4 477.7,491.4" fill="none" stroke="#f6cb2c" stroke-width="1.6" stroke-dasharray="3.5 1.8" stroke-linejoin="round"/>
<path d="M465.7 487.6L468.74 491.4L465.7 495.2L462.66 491.4Z" fill="#fff6d0" stroke="#f6cb2c" stroke-width="1.1"/>
<text x="482.6" y="495.5" font-size="12.3" text-anchor="start" fill="#222">500</text>
</svg></div></body></html>
